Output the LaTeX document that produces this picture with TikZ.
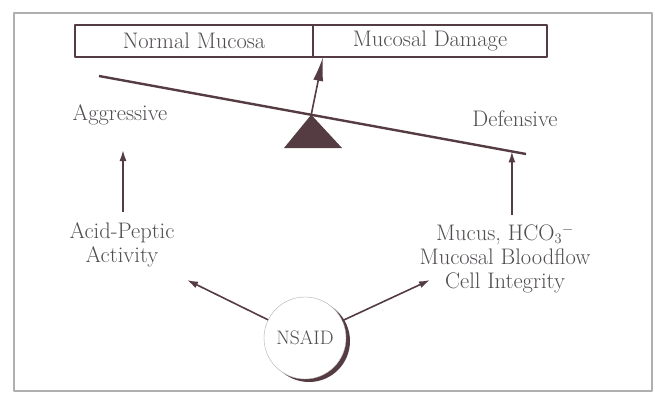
\documentclass[tikz,border=0pt]{standalone}
\usetikzlibrary{arrows.meta,positioning,calc}
\definecolor{ink}{RGB}{84,60,66}
\definecolor{txt}{RGB}{80,76,80}
\definecolor{frame}{RGB}{175,175,175}
\begin{document}
\begin{tikzpicture}[x=1pt, y=-1pt, >={Latex[length=11pt,width=7pt]}, line join=round, font=\fontsize{22.5}{24}\selectfont]
	\tikzset{lbl/.style={text=txt, align=center, inner sep=0pt},
		cell/.style={draw=ink, line width=1.8pt, minimum height=32pt, inner sep=0pt, outer sep=0pt, text=txt},
		link/.style={draw=ink, line width=1.6pt, ->}}
	\useasboundingbox (0,0) rectangle (655,393);
	\draw [frame, line width=1.5pt] (14,13) rectangle (652,391);
	% the two states on top
	\node [cell, minimum width=238pt] (normal) at (194,41) {Normal Mucosa};
	\node [cell, minimum width=234pt, anchor=west] (damage) at (normal.east) {Mucosal Damage};
	% beam and fulcrum
	\draw [ink, line width=2.4pt] (99,76) coordinate (beamL) -- (526,154) coordinate (beamR);
	\path (beamL)--(beamR) coordinate [pos=0.497] (pivot) coordinate [pos=0.967] (defIn);
	\fill [ink] (pivot) -- (284,148) -- (342,148) -- cycle;
	\draw [link, >={Latex[length=24pt,width=10pt]}] (pivot) -- ([xshift=10pt]damage.south west);
	% the two sides
	\node [lbl] (aggr) at (120,115) {Aggressive};
	\node [lbl] (def) at (515,119) {Defensive};
	\node [lbl] (acid) at (122,245) {Acid-Peptic\\Activity};
	\node [lbl] (prot) at (505,259) {Mucus, HCO$_3{}^-$\\Mucosal Bloodflow\\Cell Integrity};
	\coordinate (aggIn) at (123,150);
	\draw [link] ([yshift=11pt]acid.north -| aggIn) -- (aggIn);
	\draw [link] ([yshift=10pt]prot.north -| defIn) -- (defIn);
	% NSAID
	\coordinate (nc) at (305,338);
	\fill [ink] ([xshift=4pt,yshift=-3pt]nc) circle (41pt);
	\node [circle, draw=frame, fill=white, minimum size=82pt, inner sep=0pt, text=txt, font=\fontsize{19.5}{20}\selectfont] (nsaid) at (nc) {NSAID};
	\coordinate (nsL) at (187,280);
	\coordinate (nsR) at (430,280);
	\foreach \t in {nsL,nsR}{
		\draw [link] (nsaid) -- (\t);
	}
\end{tikzpicture}
\end{document}
